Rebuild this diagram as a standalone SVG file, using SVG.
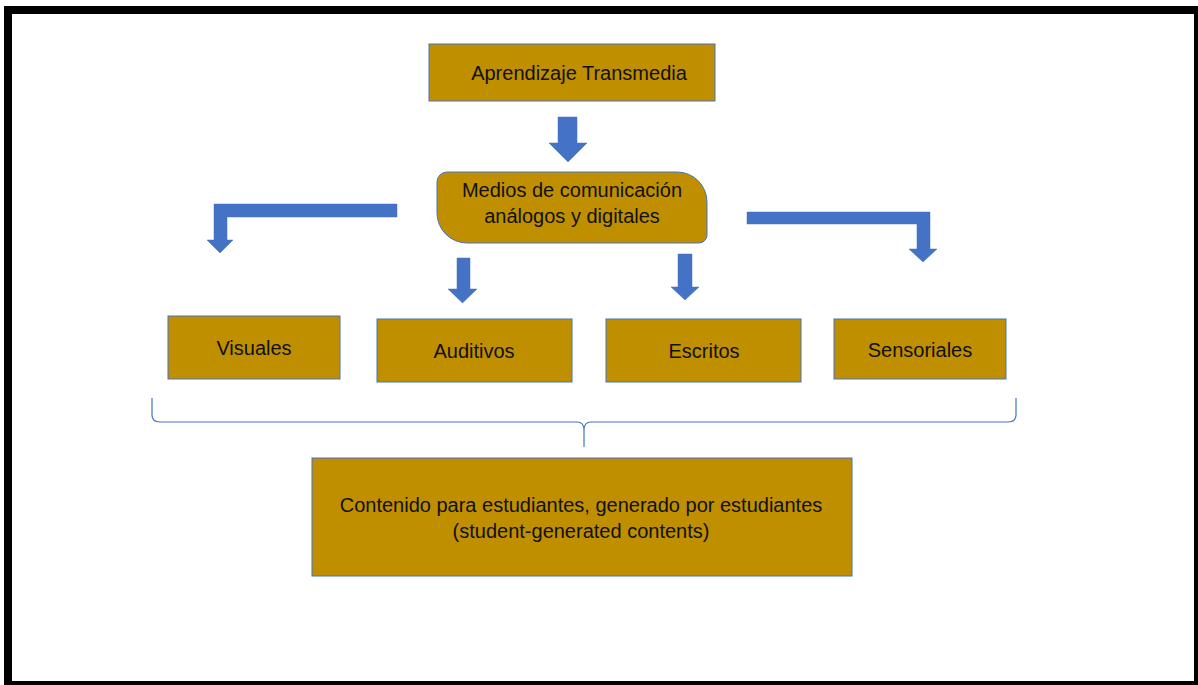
<svg xmlns="http://www.w3.org/2000/svg" width="1198" height="685" viewBox="0 0 1198 685">
<style>
.box{fill:#BF8F00;stroke:#4472C4;stroke-width:1}
.arr{fill:#4472C4;stroke:#4472C4;stroke-width:0.5}
.t{font-family:"Liberation Sans",Arial,sans-serif;font-size:20px;fill:#111;text-anchor:middle}
.brace{fill:none;stroke:#4472C4;stroke-width:1.2}
</style>
<rect x="8" y="10" width="1190" height="675" fill="#fff" stroke="#000" stroke-width="8"/>
<g id="n-top">
<rect class="box" x="429" y="44" width="286" height="57"/>
<text class="t" x="579" y="80">Aprendizaje Transmedia</text>
</g>
<g id="n-medios">
<path class="box" d="M447,172 H677 A30,30 0 0 1 707,202 V235 A8,8 0 0 1 699,243 H467 A30,30 0 0 1 437,213 V182 A10,10 0 0 1 447,172 Z"/>
<text class="t" x="572" y="197">Medios de comunicación</text>
<text class="t" x="572" y="223">análogos y digitales</text>
</g>
<g id="n-visuales">
<rect class="box" x="168" y="316" width="172" height="63"/>
<text class="t" x="254" y="355">Visuales</text>
</g>
<g id="n-auditivos">
<rect class="box" x="377" y="319" width="195" height="63"/>
<text class="t" x="474" y="358">Auditivos</text>
</g>
<g id="n-escritos">
<rect class="box" x="606" y="319" width="195" height="63"/>
<text class="t" x="704" y="358">Escritos</text>
</g>
<g id="n-sensoriales">
<rect class="box" x="834" y="319" width="172" height="60"/>
<text class="t" x="920" y="357">Sensoriales</text>
</g>
<g id="n-contenido">
<rect class="box" x="312" y="458" width="540" height="118"/>
<text class="t" x="581" y="512">Contenido para estudiantes, generado por estudiantes</text>
<text class="t" x="581" y="538">(student-generated contents)</text>
</g>
<g id="connectors">
<path class="arr" d="M558,117 H577 V143 H587 L568,162 L549,143 H558 Z"/>
<path class="arr" d="M397,204 V217 H227 V240 H233 L220,253 L207,240 H214 V204 Z"/>
<path class="arr" d="M747,212 H930 V249 H937 L923,262 L909,249 H917 V224 H747 Z"/>
<path class="arr" d="M457,258 H470 V289 H477 L462.5,303 L448,289 H457 Z"/>
<path class="arr" d="M678,254 H692 V287 H699 L685,300 L671,287 H678 Z"/>
<path class="brace" d="M152,398 V415 Q152,422 160,422 H577 Q584,422 584,430 V447 M584,430 Q584,422 591,422 H1008 Q1016,422 1016,415 V398"/>
</g>
</svg>
